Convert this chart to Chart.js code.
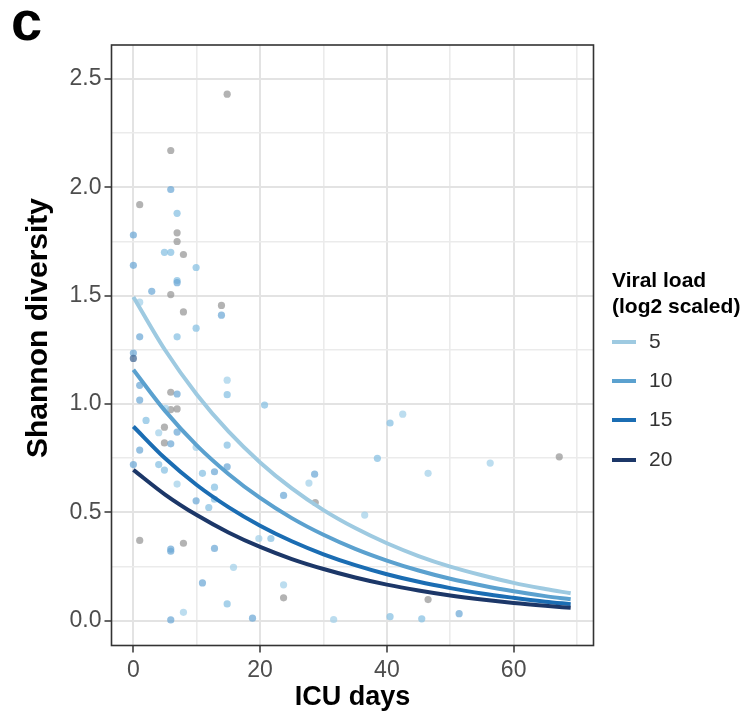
<!DOCTYPE html>
<html>
<head>
<meta charset="utf-8">
<script src="https://cdn.jsdelivr.net/npm/chart.js@4.4.0/dist/chart.umd.min.js"></script>
<style>
  html, body { margin: 0; padding: 0; background: #fff; }
  #wrap { position: relative; width: 744px; height: 716px; }
</style>
</head>
<body>
<div id="wrap"><canvas id="diversityChart" width="744" height="716"></canvas></div>
<script>
// observed samples: ICU day, Shannon diversity, viral load (null = not measured)
const pointDays = [5.9, 5.9, 1.0, 6.9, 0.0, 6.9, 6.9, 4.9, 5.9, 7.9,
  0.0, 9.9, 6.9, 6.9, 2.9, 5.9, 1.0, 13.9, 13.9, 7.9,
  1.0, 6.9, 9.9, 0.0, 0.0, 1.0, 5.9, 6.9, 1.0, 14.8,
  14.8, 5.9, 6.9, 5.1, 2.0, 4.9, 4.0, 6.9, 4.9, 5.9,
  1.0, 14.8, 9.9, 0.0, 4.0, 4.9, 10.9, 12.8, 14.8, 6.9,
  12.8, 12.8, 9.9, 11.9, 1.0, 5.9, 5.9, 7.9, 12.8, 10.9,
  14.8, 5.9, 7.9, 14.8, 20.7, 23.7, 28.6, 27.7, 28.7, 19.8,
  21.7, 15.8, 23.7, 23.7, 18.8, 31.6, 40.5, 42.5, 38.5, 36.5,
  40.5, 45.5, 46.5, 56.3, 67.2, 46.5, 51.4]
const pointShannon = [2.17, 1.99, 1.92, 1.88, 1.78, 1.79, 1.75, 1.70, 1.70, 1.69,
  1.64, 1.63, 1.57, 1.56, 1.52, 1.505, 1.47, 1.455, 1.41, 1.425,
  1.31, 1.31, 1.35, 1.235, 1.21, 1.086, 1.054, 1.046, 1.018, 1.11,
  1.043, 0.974, 0.977, 0.98, 0.924, 0.893, 0.867, 0.87, 0.82, 0.816,
  0.787, 0.81, 0.80, 0.72, 0.72, 0.695, 0.68, 0.687, 0.71, 0.63,
  0.616, 0.56, 0.553, 0.522, 0.37, 0.33, 0.32, 0.357, 0.333, 0.174,
  0.077, 0.003, 0.038, 2.43, 0.995, 0.578, 0.676, 0.635, 0.545, 0.379,
  0.379, 0.246, 0.165, 0.105, 0.011, 0.005, 0.912, 0.953, 0.749, 0.487,
  0.018, 0.008, 0.68, 0.727, 0.756, 0.097, 0.032]
const pointViralLoad = [null, 10, null, 6, 10, null, null, 6, 6, null,
  10, 6, 6, 8, 12, null, 4, null, 8, null,
  10, 5, 6, 8, 18, 10, null, 10, 10, 3,
  6, null, null, 3, 6, null, 4, 8, null, 8,
  10, 6, 3, 10, 6, 6, 6, 8, 8, 3,
  6, 6, 10, 6, null, 10, 12, null, 8, 8,
  6, 8, 3, null, 6, 10, 10, 4, null, 4,
  6, 4, 3, null, 10, 4, 6, 4, 6, 4,
  5, 5, 4, 4, null, null, 8]

// fitted curves
const curveDays = [0, 5, 10, 15, 20, 25, 30, 35, 40, 45, 50, 55, 60, 65, 69]
const curveVL5 = [1.494, 1.249, 1.044, 0.873, 0.730, 0.610, 0.510, 0.427, 0.357, 0.298, 0.249, 0.209, 0.174, 0.146, 0.126]
const curveVL10 = [1.158, 0.968, 0.809, 0.677, 0.566, 0.473, 0.396, 0.331, 0.277, 0.231, 0.193, 0.162, 0.135, 0.113, 0.098]
const curveVL15 = [0.896, 0.749, 0.626, 0.524, 0.438, 0.366, 0.306, 0.256, 0.214, 0.179, 0.150, 0.125, 0.105, 0.087, 0.076]
const curveVL20 = [0.696, 0.582, 0.487, 0.407, 0.340, 0.284, 0.238, 0.199, 0.166, 0.139, 0.116, 0.097, 0.081, 0.068, 0.059]
const viralLevels = [5, 10, 15, 20]

const xMajorTicks = [0, 20, 40, 60]
const xMinorTicks = [10, 30, 50, 70]
const yMajorTicks = [0, 0.5, 1.0, 1.5, 2.0, 2.5]
const yMinorTicks = [0.25, 0.75, 1.25, 1.75, 2.25]

const fontFamily = "'Liberation Sans', Arial, Helvetica, sans-serif"
const curveColors = ['#9ecae1', '#5ba1cf', '#1b6db3', '#1c3768']

function colorFor(v) {
  if (v === null) return 'rgba(150,150,150,0.72)'
  if (v <= 4) return 'rgba(160,206,232,0.7)'
  if (v <= 7) return 'rgba(138,193,227,0.75)'
  if (v <= 12) return 'rgba(108,168,214,0.72)'
  return 'rgba(70,105,150,0.75)'
}

const curveSets = [curveVL5, curveVL10, curveVL15, curveVL20]

const datasets = curveSets.map((vals, i) => {
  return {
    type: 'scatter',
    label: String(viralLevels[i]),
    data: curveDays.map((d, j) => ({ x: d, y: vals[j] })),
    showLine: true,
    borderColor: curveColors[i],
    borderWidth: 4,
    pointRadius: 0,
    cubicInterpolationMode: 'monotone',
    order: 3 - i
  }
})

datasets.push({
  type: 'scatter',
  label: 'samples',
  data: pointDays.map((d, i) => ({ x: d, y: pointShannon[i] })),
  backgroundColor: pointViralLoad.map(colorFor),
  borderWidth: 0,
  pointRadius: 3.6,
  order: 10
})

const isMajor = (list, v) => list.some(t => Math.abs(t - v) < 1e-9)

const frame = {
  id: 'frame',
  afterDraw(chart) {
    const ctx = chart.ctx
    const a = chart.chartArea
    ctx.save()
    ctx.strokeStyle = '#333'
    ctx.lineWidth = 1.6
    ctx.strokeRect(a.left, a.top, a.right - a.left, a.bottom - a.top)

    // y axis title
    ctx.save()
    ctx.translate(39, 328)
    ctx.rotate(-Math.PI / 2)
    ctx.fillStyle = '#000'
    ctx.textAlign = 'center'
    ctx.textBaseline = 'middle'
    ctx.font = 'bold 30px ' + fontFamily
    ctx.fillText('Shannon diversity', 0, 0)
    ctx.restore()

    // legend
    ctx.fillStyle = '#000'
    ctx.textAlign = 'left'
    ctx.textBaseline = 'middle'
    ctx.font = 'bold 21px ' + fontFamily
    ctx.fillText('Viral load', 612, 281)
    ctx.fillText('(log2 scaled)', 612, 307)
    const rows = [342, 381, 420, 460]
    viralLevels.forEach((lvl, i) => {
      ctx.strokeStyle = curveColors[i]
      ctx.lineWidth = 4
      ctx.beginPath()
      ctx.moveTo(612, rows[i])
      ctx.lineTo(636, rows[i])
      ctx.stroke()
      ctx.font = '21px ' + fontFamily
      ctx.fillStyle = '#333'
      ctx.fillText(String(lvl), 649, rows[i])
    })

    // panel tag
    ctx.fillStyle = '#000'
    ctx.font = 'bold 56px ' + fontFamily
    ctx.textBaseline = 'alphabetic'
    ctx.fillText('c', 11, 40)
    ctx.restore()
  }
}

const chart = new Chart(document.getElementById('diversityChart'), {
  type: 'scatter',
  data: { datasets: datasets },
  plugins: [frame],
  options: {
    responsive: false,
    animation: false,
    devicePixelRatio: 1,
    layout: { padding: { left: 0, top: 45, right: 150.5, bottom: 2 } },
    plugins: { legend: { display: false }, tooltip: { enabled: false } },
    scales: {
      x: {
        type: 'linear',
        min: -3.45,
        max: 72.6,
        afterBuildTicks: (axis) => {
          axis.ticks = xMajorTicks.concat(xMinorTicks).sort((a, b) => a - b).map(v => ({ value: v }))
        },
        afterFit: (axis) => { axis.height = 68.5 },
        ticks: {
          autoSkip: false,
          maxRotation: 0,
          padding: 4,
          color: '#4d4d4d',
          font: { size: 23, family: fontFamily },
          callback: (v) => isMajor(xMajorTicks, v) ? String(v) : ''
        },
        grid: {
          color: (c) => isMajor(xMajorTicks, c.tick.value) ? '#e3e3e3' : '#ebebeb',
          lineWidth: (c) => isMajor(xMajorTicks, c.tick.value) ? 2 : 1.6,
          tickLength: 7,
          tickWidth: 1.5,
          tickColor: (c) => isMajor(xMajorTicks, c.tick.value) ? '#333' : 'rgba(0,0,0,0)'
        },
        border: { display: false },
        title: {
          display: true,
          text: 'ICU days',
          color: '#000',
          font: { size: 27, weight: 'bold', family: fontFamily },
          padding: { top: 0, bottom: 0 }
        }
      },
      y: {
        type: 'linear',
        min: -0.115,
        max: 2.657,
        afterBuildTicks: (axis) => {
          axis.ticks = yMajorTicks.concat(yMinorTicks).sort((a, b) => a - b).map(v => ({ value: v }))
        },
        afterFit: (axis) => { axis.width = 111.5 },
        ticks: {
          autoSkip: false,
          padding: 3,
          color: '#4d4d4d',
          font: { size: 23, family: fontFamily },
          callback: (v) => isMajor(yMajorTicks, v) ? v.toFixed(1) : ''
        },
        grid: {
          color: (c) => isMajor(yMajorTicks, c.tick.value) ? '#e3e3e3' : '#ebebeb',
          lineWidth: (c) => isMajor(yMajorTicks, c.tick.value) ? 2 : 1.6,
          tickLength: 7,
          tickWidth: 1.5,
          tickColor: (c) => isMajor(yMajorTicks, c.tick.value) ? '#333' : 'rgba(0,0,0,0)'
        },
        border: { display: false },
        title: { display: false }
      }
    }
  }
})
</script>
</body>
</html>
